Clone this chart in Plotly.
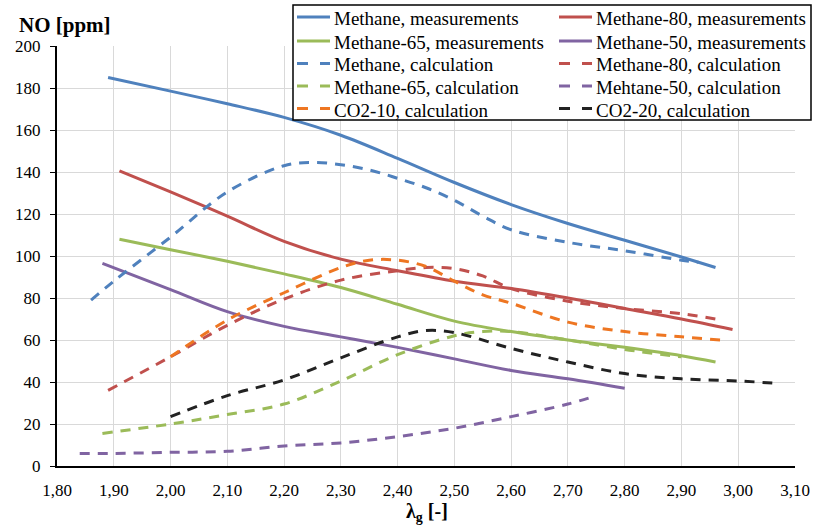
import plotly.graph_objects as go

# ---------------- data ----------------
x_m_meas = [1.89, 2.0, 2.1, 2.2, 2.3, 2.4, 2.5, 2.6, 2.7, 2.8, 2.9, 2.96]
y_m_meas = [185, 178.5, 172.5, 166, 157.5, 146.5, 135, 124.5, 115.5, 107.5, 99.5, 94.5]

x_m80_meas = [1.91, 2.0, 2.1, 2.2, 2.3, 2.4, 2.5, 2.6, 2.7, 2.8, 2.9, 2.99]
y_m80_meas = [140.5, 130.5, 119, 107, 98.5, 93, 88, 84.5, 80, 75, 70, 65]

x_m65_meas = [1.91, 2.0, 2.1, 2.2, 2.3, 2.4, 2.5, 2.6, 2.7, 2.8, 2.9, 2.96]
y_m65_meas = [108, 103, 97.5, 91.5, 85, 77, 69, 64, 60, 56.5, 52.5, 49.5]

x_m50_meas = [1.88, 2.0, 2.1, 2.2, 2.3, 2.4, 2.5, 2.6, 2.7, 2.8]
y_m50_meas = [96.5, 84, 73.5, 66.5, 61.5, 56.5, 51, 45.5, 41.5, 37]

x_m_calc = [1.86, 1.9, 2.0, 2.1, 2.2, 2.25, 2.3, 2.35, 2.4, 2.45, 2.5, 2.55, 2.6, 2.7, 2.8, 2.9, 2.93]
y_m_calc = [79, 88, 109, 130.5, 143, 144.5, 143.5, 141, 137, 132.5, 126.5, 119, 112.5, 106.5, 102.5, 98, 97]

x_m80_calc = [1.89, 2.0, 2.1, 2.2, 2.3, 2.4, 2.45, 2.5, 2.55, 2.6, 2.7, 2.8, 2.9, 2.96]
y_m80_calc = [36, 52, 67, 79.5, 88.5, 93, 94.5, 94, 90.5, 84.5, 78.5, 75, 72.5, 70]

x_m65_calc = [1.88, 2.0, 2.1, 2.2, 2.3, 2.4, 2.5, 2.55, 2.6, 2.7, 2.8, 2.9]
y_m65_calc = [15.5, 20, 24.5, 29.5, 40.5, 53, 62, 64, 64, 60, 55.5, 52]

x_m50_calc = [1.84, 1.9, 2.0, 2.1, 2.2, 2.3, 2.4, 2.5, 2.6, 2.7, 2.75]
y_m50_calc = [6, 6, 6.5, 7, 9.5, 11, 14, 18, 23.5, 29.5, 33.5]

x_co2_10 = [2.0, 2.1, 2.2, 2.3, 2.35, 2.4, 2.45, 2.5, 2.55, 2.6, 2.7, 2.8, 2.9, 2.97]
y_co2_10 = [52, 69.5, 82.5, 94.5, 98, 98, 95, 88, 81.5, 77.5, 68.5, 64, 61.5, 60]

x_co2_20 = [2.0, 2.1, 2.2, 2.3, 2.4, 2.45, 2.5, 2.6, 2.7, 2.8, 2.9, 3.0, 3.06]
y_co2_20 = [23.5, 33.5, 41, 51.5, 61.5, 64.5, 63.5, 56, 49.5, 44, 41.5, 40.5, 39.5]

x_ticks = [1.8, 1.9, 2.0, 2.1, 2.2, 2.3, 2.4, 2.5, 2.6, 2.7, 2.8, 2.9, 3.0, 3.1]
x_ticklabels = ["1,80", "1,90", "2,00", "2,10", "2,20", "2,30", "2,40", "2,50",
                "2,60", "2,70", "2,80", "2,90", "3,00", "3,10"]

BLUE = "#4F81BD"
RED = "#C0504D"
GREEN = "#9BBB59"
PURPLE = "#8064A2"
ORANGE = "#EE7622"
BLACK = "#222222"
DASH = "10px,8px"
FONT = "Liberation Serif"

series = [
    # (name, x, y, color, dashed, legend column, legend row)
    ("Methane, measurements", x_m_meas, y_m_meas, BLUE, False, 0, 0),
    ("Methane-65, measurements", x_m65_meas, y_m65_meas, GREEN, False, 0, 1),
    ("Methane, calculation", x_m_calc, y_m_calc, BLUE, True, 0, 2),
    ("Methane-65, calculation", x_m65_calc, y_m65_calc, GREEN, True, 0, 3),
    ("CO2-10, calculation", x_co2_10, y_co2_10, ORANGE, True, 0, 4),
    ("Methane-80, measurements", x_m80_meas, y_m80_meas, RED, False, 1, 0),
    ("Methane-50, measurements", x_m50_meas, y_m50_meas, PURPLE, False, 1, 1),
    ("Methane-80, calculation", x_m80_calc, y_m80_calc, RED, True, 1, 2),
    ("Mehtane-50, calculation", x_m50_calc, y_m50_calc, PURPLE, True, 1, 3),
    ("CO2-20, calculation", x_co2_20, y_co2_20, BLACK, True, 1, 4),
]

draw_order = [0, 5, 1, 6, 2, 7, 3, 8, 4, 9]

fig = go.Figure()
for i in draw_order:
    name, xs, ys, col, dashed, _, _ = series[i]
    fig.add_trace(go.Scatter(
        x=xs, y=ys, mode="lines", name=name, showlegend=False,
        line=dict(color=col, width=3, shape="spline", smoothing=1.0,
                  dash=DASH if dashed else "solid"),
        hoverinfo="skip",
    ))

W, H = 813, 531
L, R, T, B = 57, 18, 46, 65
pw, ph = W - L - R, H - T - B

def px_x(px):
    return (px - L) / pw

def px_y(py):
    return (H - B - py) / ph

# ---- legend box (two columns, five rows) ----
shapes = [dict(type="rect", xref="paper", yref="paper",
               x0=px_x(293), x1=px_x(811), y0=px_y(120), y1=px_y(5),
               line=dict(color="black", width=1.5), fillcolor="white",
               layer="above")]
annotations = []
col_x = [297, 559]
row_y = [17, 41, 63.5, 86, 108.5]
for name, xs, ys, col, dashed, c, r in series:
    x0 = col_x[c]
    yy = row_y[r]
    shapes.append(dict(type="line", xref="paper", yref="paper",
                       x0=px_x(x0), x1=px_x(x0 + 33), y0=px_y(yy), y1=px_y(yy),
                       line=dict(color=col, width=3,
                                 dash="11px,12px" if dashed else "solid"),
                       layer="above"))
    annotations.append(dict(text=name, xref="paper", yref="paper",
                            x=px_x(x0 + 35), y=px_y(yy + 1.5),
                            xanchor="left", yanchor="middle", showarrow=False,
                            font=dict(family=FONT, size=19, color="black")))

annotations += [
    dict(text="<b>NO [ppm]</b>", xref="paper", yref="paper",
         x=px_x(17), y=px_y(25), xanchor="left", yanchor="middle",
         showarrow=False, font=dict(family=FONT, size=21, color="black")),
    dict(text="<b>λ<sub>g</sub> [-]</b>", xref="paper", yref="paper",
         x=px_x(427), y=px_y(512), xanchor="center", yanchor="middle",
         showarrow=False, font=dict(family=FONT, size=20, color="black")),
]

fig.update_layout(
    width=W, height=H,
    margin=dict(l=L, r=R, t=T, b=B, autoexpand=False),
    paper_bgcolor="white", plot_bgcolor="white",
    font=dict(family=FONT, size=17, color="black"),
    showlegend=False,
    xaxis=dict(range=[1.8, 3.1], tickvals=x_ticks, ticktext=x_ticklabels,
               showgrid=True, gridcolor="#D9D9D9", gridwidth=1,
               showline=True, linecolor="black", linewidth=2,
               ticks="", zeroline=False, ticklabelstandoff=8,
               tickfont=dict(family=FONT, size=17, color="black")),
    yaxis=dict(range=[0, 200], dtick=20, tick0=0,
               showgrid=True, gridcolor="#D9D9D9", gridwidth=1,
               showline=True, linecolor="black", linewidth=2,
               ticks="outside", ticklen=5, tickcolor="black", tickwidth=1,
               zeroline=False, ticklabelstandoff=6,
               tickfont=dict(family=FONT, size=17, color="black")),
    shapes=shapes,
    annotations=annotations,
)

fig.write_html("out.html", config={"displayModeBar": False},
               post_script="document.body.style.margin='0';"
                           "document.body.style.padding='0';")
